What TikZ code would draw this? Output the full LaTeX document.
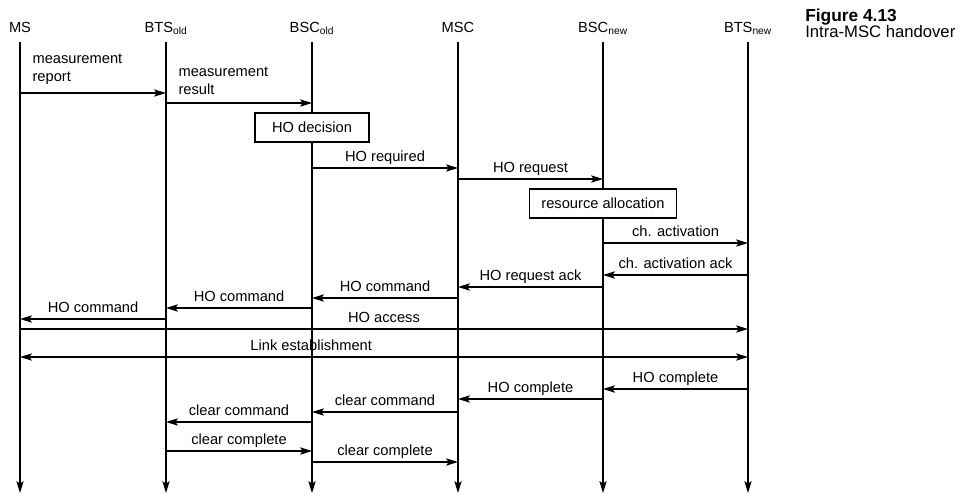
\documentclass[tikz,border=0pt]{standalone}
\usepackage{fontspec}
\setmainfont{Liberation Sans}
\usetikzlibrary{arrows.meta}

\begin{document}
\begin{tikzpicture}[x=0.75pt,y=-0.75pt,
    >={Stealth[length=9pt,width=5.5pt,inset=2pt]},
    entity/.style ={anchor=base, inner sep=0pt, text depth=3pt, outer ysep=4.5pt, font=\fontsize{11}{13}\selectfont},
    lifeline/.style ={->, line width=0.9pt},
    message/.style ={->, line width=0.9pt},
    msgtext/.style ={anchor=base, inner sep=0pt, yshift=5pt, font=\fontsize{11}{13}\selectfont},
    notetext/.style ={anchor=south west, align=left, inner sep=0pt, xshift=9pt, yshift=6pt, font=\fontsize{11}{13.5}\selectfont},
    action/.style ={draw, line width=0.9pt, fill=white, minimum height=21.75pt, inner sep=0pt, font=\fontsize{11}{13}\selectfont},
    caption/.style ={anchor=base west, inner sep=0pt}]
   \useasboundingbox (0,0) rectangle (962,494);

   \node[entity] (ms)   at (20,32)  {MS};
   \node[entity] (btso) at (166,32) {BTS\textsubscript{old}};
   \node[entity] (bsco) at (312,32) {BSC\textsubscript{old}};
   \node[entity] (msc)  at (458,32) {MSC};
   \node[entity] (bscn) at (603,32) {BSC\textsubscript{new}};
   \node[entity] (btsn) at (748,32) {BTS\textsubscript{new}};

   \node[caption, font=\bfseries\fontsize{13}{15}\selectfont] (fignum) at (805,21) {Figure 4.13};
   \node[caption, font=\fontsize{12.5}{15}\selectfont] (figtitle) at (805,37) {Intra-MSC handover};

   \coordinate (bottom) at (0,493);
   \draw[lifeline] (ms)   -- (ms |- bottom);
   \draw[lifeline] (btso) -- (btso |- bottom);
   \draw[lifeline] (bsco) -- (bsco |- bottom);
   \draw[lifeline] (msc)  -- (msc |- bottom);
   \draw[lifeline] (bscn) -- (bscn |- bottom);
   \draw[lifeline] (btsn) -- (btsn |- bottom);

   \coordinate (r1)  at (0,93);
   \coordinate (r2)  at (0,103);
   \coordinate (r3)  at (0,168);
   \coordinate (r4)  at (0,179);
   \coordinate (r5)  at (0,243);
   \coordinate (r6)  at (0,275);
   \coordinate (r7)  at (0,287);
   \coordinate (r8)  at (0,298);
   \coordinate (r9)  at (0,308);
   \coordinate (r10) at (0,319);
   \coordinate (r11) at (0,329);
   \coordinate (r12) at (0,357);
   \coordinate (r13) at (0,389);
   \coordinate (r14) at (0,399);
   \coordinate (r15) at (0,412);
   \coordinate (r16) at (0,422);
   \coordinate (r17) at (0,451);
   \coordinate (r18) at (0,462);

   \node[action, minimum width=85.5pt] (hodecision) at (312,127.5) {HO decision};
   \node[action, minimum width=110pt] (resalloc) at (603,203.5) {resource allocation};

   \draw[message] (ms |- r1) -- node[notetext, pos=0] {measurement\\report} (btso |- r1);
   \draw[message] (btso |- r2) -- node[notetext, pos=0] {measurement\\result} (bsco |- r2);
   \draw[message] (bsco |- r3) -- node[msgtext] {HO required} (msc |- r3);
   \draw[message] (msc |- r4) -- node[msgtext] {HO request} (bscn |- r4);
   \draw[message] (bscn |- r5) -- node[msgtext] {ch. activation} (btsn |- r5);
   \draw[message] (btsn |- r6) -- node[msgtext] {ch. activation ack} (bscn |- r6);
   \draw[message] (bscn |- r7) -- node[msgtext] {HO request ack} (msc |- r7);
   \draw[message] (msc |- r8) -- node[msgtext] {HO command} (bsco |- r8);
   \draw[message] (bsco |- r9) -- node[msgtext] {HO command} (btso |- r9);
   \draw[message] (btso |- r10) -- node[msgtext] {HO command} (ms |- r10);
   \draw[message] (ms |- r11) -- node[msgtext] {HO access} (btsn |- r11);
   \draw[message, <->] (ms |- r12) -- node[msgtext, pos=0.4] {Link establishment} (btsn |- r12);
   \draw[message] (btsn |- r13) -- node[msgtext] {HO complete} (bscn |- r13);
   \draw[message] (bscn |- r14) -- node[msgtext] {HO complete} (msc |- r14);
   \draw[message] (msc |- r15) -- node[msgtext] {clear command} (bsco |- r15);
   \draw[message] (bsco |- r16) -- node[msgtext] {clear command} (btso |- r16);
   \draw[message] (btso |- r17) -- node[msgtext] {clear complete} (bsco |- r17);
   \draw[message] (bsco |- r18) -- node[msgtext] {clear complete} (msc |- r18);
 \end{tikzpicture}
\end{document}
